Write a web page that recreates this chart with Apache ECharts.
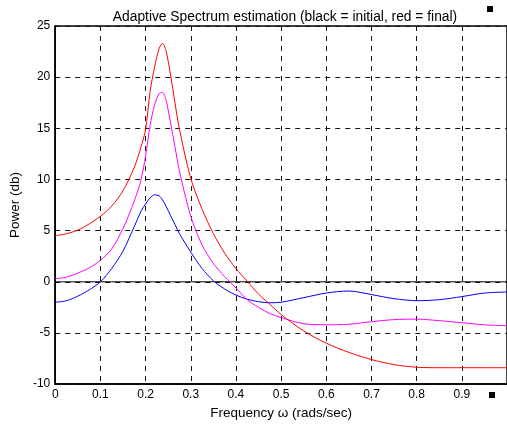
<!DOCTYPE html>
<html lang="en">
  <head>
    <meta charset="UTF-8" />
    <script src="https://cdn.jsdelivr.net/npm/echarts@6.0.0/dist/echarts.min.js"></script>
    <title>Adaptive Spectrum estimation</title>
    <style>
      body { margin: 0; background: #fff; }
      #container { width: 507px; height: 425px; }
    </style>
  </head>
  <body>
    <div id="container"></div>
    <script>
      // frequency samples (rads/sec)
      const freq = [0, 0.025, 0.05, 0.075, 0.1, 0.125, 0.15, 0.175, 0.19, 0.2, 0.21, 0.22, 0.23, 0.2375,
        0.245, 0.255, 0.265, 0.275, 0.3, 0.325, 0.35, 0.375, 0.4, 0.425, 0.45, 0.475, 0.5, 0.55, 0.6,
        0.65, 0.7, 0.75, 0.8, 0.85, 0.9, 0.95, 1.0];

      // power (db)
      const initial = [0, 0, 0, 0, 0, 0, 0, 0, 0, 0, 0, 0, 0, 0, 0, 0, 0, 0, 0, 0, 0, 0, 0, 0, 0, 0,
        0, 0, 0, 0, 0, 0, 0, 0, 0, 0, 0];
      const finalRed = [4.5, 4.7, 5.05, 5.65, 6.4, 7.4, 8.9, 11.2, 13.2, 14.9, 18.6, 21.0, 22.8, 23.3,
        22.6, 20.3, 17.5, 14.9, 10.1, 7.1, 4.7, 2.8, 1.3, 0.05, -1.2, -2.2, -3.2, -4.8, -6.0, -6.9,
        -7.6, -8.1, -8.35, -8.4, -8.4, -8.4, -8.4];
      const magenta = [0.3, 0.45, 0.85, 1.35, 2.1, 3.2, 5.2, 7.9, 10.0, 12.3, 15.3, 17.3, 18.4, 18.5,
        17.8, 15.6, 13.2, 10.8, 6.4, 3.6, 1.8, 0.5, -0.6, -1.75, -2.5, -3.1, -3.5, -4.1, -4.2, -4.15,
        -3.9, -3.7, -3.65, -3.8, -4.0, -4.2, -4.3];
      const blue = [-2.0, -1.85, -1.4, -0.8, 0.0, 1.3, 3.0, 5.4, 6.9, 7.6, 8.2, 8.5, 8.4, 8.0, 7.4,
        6.5, 5.6, 4.7, 2.9, 1.3, 0.1, -0.7, -1.3, -1.7, -1.95, -2.05, -2.0, -1.55, -1.1, -0.9, -1.25,
        -1.65, -1.85, -1.75, -1.45, -1.1, -1.0];

      const pairs = (ys) => freq.map((f, i) => [f, ys[i]]);
      const font = "Liberation Sans, Arial, sans-serif";

      const chart = echarts.init(document.getElementById("container"), null, { renderer: "canvas" });

      function line(name, ys, color) {
        return {
          name: name,
          type: "line",
          data: pairs(ys),
          showSymbol: false,
          smooth: 0.3,
          animation: false,
          lineStyle: { color: color, width: 1 },
        };
      }

      const option = {
        animation: false,
        title: {
          text: "Adaptive Spectrum estimation (black = initial, red = final)",
          left: 280,
          textAlign: "center",
          top: 5,
          textStyle: { fontFamily: font, fontSize: 13.8, fontWeight: "normal", color: "#000" },
        },
        grid: {
          left: 53, right: -1, top: 26, bottom: 40,
          show: true, borderColor: "#000", borderWidth: 1.5,
        },
        xAxis: {
          type: "value",
          min: 0, max: 1, interval: 0.1,
          name: "Frequency ω (rads/sec)",
          nameLocation: "middle",
          nameGap: 21,
          nameTextStyle: { fontFamily: font, fontSize: 13.5, color: "#000" },
          axisLine: { show: true, onZero: false, lineStyle: { color: "#000", width: 1.5 } },
          axisTick: { show: false },
          axisLabel: {
            fontFamily: font, fontSize: 12, color: "#000", margin: 5, showMaxLabel: false,
            formatter: (v) => String(Math.round(v * 10) / 10),
          },
          splitLine: { show: true, lineStyle: { color: "#111", type: [5, 5], width: 1 } },
        },
        yAxis: {
          type: "value",
          min: -10, max: 25, interval: 5,
          name: "Power (db)",
          nameLocation: "middle",
          nameGap: 31,
          nameTextStyle: { fontFamily: font, fontSize: 13.5, color: "#000" },
          axisLine: { show: true, onZero: false, lineStyle: { color: "#000", width: 1.5 } },
          axisTick: { show: false },
          axisLabel: { fontFamily: font, fontSize: 12, color: "#000", margin: 5 },
          splitLine: { show: true, lineStyle: { color: "#111", type: [5, 5], width: 1 } },
        },
        graphic: [
          { type: "rect", left: 487, top: 6, shape: { width: 6, height: 6 }, style: { fill: "#000" } },
          { type: "rect", left: 489, top: 392, shape: { width: 6, height: 6 }, style: { fill: "#000" } },
        ],
        series: [
          line("initial", initial, "#000000"),
          line("blue", blue, "#0000ff"),
          line("magenta", magenta, "#ff00ff"),
          line("final", finalRed, "#ff0000"),
        ],
      };

      chart.setOption(option);
    </script>
  </body>
</html>
